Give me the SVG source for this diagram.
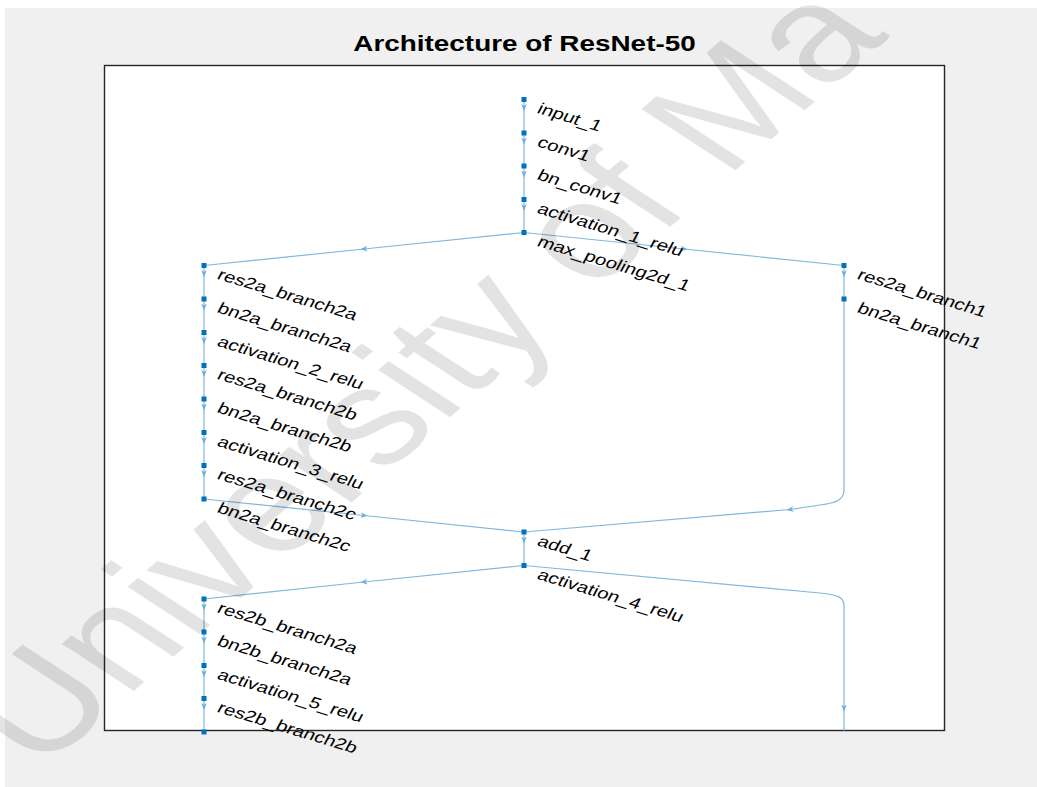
<svg xmlns="http://www.w3.org/2000/svg" width="1037" height="787" viewBox="0 0 1037 787">
<style>
.lbl{font-family:"Liberation Sans",Arial,sans-serif;font-size:15.5px;fill:#000}
.ttl{font-family:"Liberation Sans",Arial,sans-serif;font-size:22.5px;font-weight:bold;fill:#000}
.nd{fill:#0072BD}
.e{fill:none;stroke:#80b8de;stroke-width:1.2}
.a{marker-mid:url(#ah)}
.wm{font-family:"Liberation Sans",Arial,sans-serif;font-size:136px;fill:#000;fill-opacity:0.11}
</style>
<defs>
<marker id="ah" viewBox="0 0 10 10" refX="5" refY="5" markerWidth="7" markerHeight="7" markerUnits="userSpaceOnUse" orient="auto">
<path d="M0,1 L10,5 L0,9 L3,5 z" fill="#6aaedb"/>
</marker>
</defs>
<rect x="0" y="0" width="1037" height="787" fill="#ffffff"/>
<rect x="5" y="8" width="1032" height="779" fill="#f0f0f0"/>
<text class="ttl" text-anchor="middle" transform="translate(524.5,51) scale(1.24,1)">Architecture of ResNet-50</text>
<rect x="104.5" y="65.5" width="840" height="665" fill="#ffffff" stroke="#262626" stroke-width="1.4"/>
<g id="connectors">
<path class="e a" d="M524,99.5 L524,107.5 L524,133"/>
<path class="e a" d="M524,133 L524,141 L524,166"/>
<path class="e a" d="M524,166 L524,174 L524,199.5"/>
<path class="e a" d="M524,199.5 L524,207.5 L524,232.5"/>
<path class="e a" d="M524,232.5 L364,249 L204,265.5"/>
<path class="e a" d="M524,232.5 L684,249 L844,265.5"/>
<path class="e a" d="M204,265.5 L204,273.5 L204,299"/>
<path class="e a" d="M204,299 L204,307 L204,332.5"/>
<path class="e a" d="M204,332.5 L204,340.5 L204,365.5"/>
<path class="e a" d="M204,365.5 L204,373.5 L204,399"/>
<path class="e a" d="M204,399 L204,407 L204,432.5"/>
<path class="e a" d="M204,432.5 L204,440.5 L204,465.5"/>
<path class="e a" d="M204,465.5 L204,473.5 L204,499"/>
<path class="e a" d="M844,265.5 L844,273.5 L844,299"/>
<path class="e" d="M844,299 L844,490 C844,500 836,503 820,505"/>
<path class="e a" d="M820,505 L790,509.5 L524,532"/>
<path class="e a" d="M204,499 L364,515.5 L524,532"/>
<path class="e a" d="M524,532 L524,540 L524,565.5"/>
<path class="e a" d="M524,565.5 L364,582 L204,599"/>
<path class="e" d="M524,565.5 L820,593 C838,595 844,597 844,606"/>
<path class="e a" d="M844,606 L844,708 L844,730.5"/>
<path class="e a" d="M204,599 L204,607 L204,632"/>
<path class="e a" d="M204,632 L204,640 L204,665.5"/>
<path class="e a" d="M204,665.5 L204,673.5 L204,698.5"/>
<path class="e a" d="M204,698.5 L204,706.5 L204,732"/>
</g>
<g id="input_1"><rect class="nd" x="521.5" y="97" width="5" height="5"/><text class="lbl" transform="translate(536,112.5) scale(1.33,1) rotate(22)">input_1</text></g>
<g id="conv1"><rect class="nd" x="521.5" y="130.5" width="5" height="5"/><text class="lbl" transform="translate(536,146) scale(1.33,1) rotate(22)">conv1</text></g>
<g id="bn_conv1"><rect class="nd" x="521.5" y="163.5" width="5" height="5"/><text class="lbl" transform="translate(536,179) scale(1.33,1) rotate(22)">bn_conv1</text></g>
<g id="activation_1_relu"><rect class="nd" x="521.5" y="197" width="5" height="5"/><text class="lbl" transform="translate(536,212.5) scale(1.33,1) rotate(22)">activation_1_relu</text></g>
<g id="max_pooling2d_1"><rect class="nd" x="521.5" y="230" width="5" height="5"/><text class="lbl" transform="translate(536,245.5) scale(1.33,1) rotate(22)">max_pooling2d_1</text></g>
<g id="res2a_branch2a"><rect class="nd" x="201.5" y="263" width="5" height="5"/><text class="lbl" transform="translate(216,278.5) scale(1.33,1) rotate(22)">res2a_branch2a</text></g>
<g id="bn2a_branch2a"><rect class="nd" x="201.5" y="296.5" width="5" height="5"/><text class="lbl" transform="translate(216,312) scale(1.33,1) rotate(22)">bn2a_branch2a</text></g>
<g id="activation_2_relu"><rect class="nd" x="201.5" y="330" width="5" height="5"/><text class="lbl" transform="translate(216,345.5) scale(1.33,1) rotate(22)">activation_2_relu</text></g>
<g id="res2a_branch2b"><rect class="nd" x="201.5" y="363" width="5" height="5"/><text class="lbl" transform="translate(216,378.5) scale(1.33,1) rotate(22)">res2a_branch2b</text></g>
<g id="bn2a_branch2b"><rect class="nd" x="201.5" y="396.5" width="5" height="5"/><text class="lbl" transform="translate(216,412) scale(1.33,1) rotate(22)">bn2a_branch2b</text></g>
<g id="activation_3_relu"><rect class="nd" x="201.5" y="430" width="5" height="5"/><text class="lbl" transform="translate(216,445.5) scale(1.33,1) rotate(22)">activation_3_relu</text></g>
<g id="res2a_branch2c"><rect class="nd" x="201.5" y="463" width="5" height="5"/><text class="lbl" transform="translate(216,478.5) scale(1.33,1) rotate(22)">res2a_branch2c</text></g>
<g id="bn2a_branch2c"><rect class="nd" x="201.5" y="496.5" width="5" height="5"/><text class="lbl" transform="translate(216,512) scale(1.33,1) rotate(22)">bn2a_branch2c</text></g>
<g id="res2a_branch1"><rect class="nd" x="841.5" y="263" width="5" height="5"/><text class="lbl" transform="translate(856,278.5) scale(1.33,1) rotate(22)">res2a_branch1</text></g>
<g id="bn2a_branch1"><rect class="nd" x="841.5" y="296.5" width="5" height="5"/><text class="lbl" transform="translate(856,312) scale(1.33,1) rotate(22)">bn2a_branch1</text></g>
<g id="add_1"><rect class="nd" x="521.5" y="529.5" width="5" height="5"/><text class="lbl" transform="translate(536,545) scale(1.33,1) rotate(22)">add_1</text></g>
<g id="activation_4_relu"><rect class="nd" x="521.5" y="563" width="5" height="5"/><text class="lbl" transform="translate(536,578.5) scale(1.33,1) rotate(22)">activation_4_relu</text></g>
<g id="res2b_branch2a"><rect class="nd" x="201.5" y="596.5" width="5" height="5"/><text class="lbl" transform="translate(216,612) scale(1.33,1) rotate(22)">res2b_branch2a</text></g>
<g id="bn2b_branch2a"><rect class="nd" x="201.5" y="629.5" width="5" height="5"/><text class="lbl" transform="translate(216,645) scale(1.33,1) rotate(22)">bn2b_branch2a</text></g>
<g id="activation_5_relu"><rect class="nd" x="201.5" y="663" width="5" height="5"/><text class="lbl" transform="translate(216,678.5) scale(1.33,1) rotate(22)">activation_5_relu</text></g>
<g id="res2b_branch2b"><rect class="nd" x="201.5" y="696" width="5" height="5"/><text class="lbl" transform="translate(216,711.5) scale(1.33,1) rotate(22)">res2b_branch2b</text></g>
<g id="bn2b_branch2b"><rect class="nd" x="201.5" y="729.5" width="5" height="5"/></g>
<text class="wm" transform="translate(40,772) scale(1.33,1) rotate(-49)">University of Ma</text>
</svg>
